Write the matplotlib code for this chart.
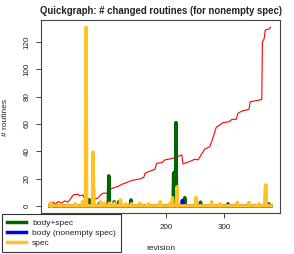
import numpy as np
import matplotlib
matplotlib.use("Agg")
import matplotlib.pyplot as plt
from matplotlib.lines import Line2D

plt.rcParams['font.family'] = ['Liberation Sans', 'DejaVu Sans']

# ---------------- data ----------------
n_rev = 380
revisions = np.arange(1, n_rev + 1)

# red line: key points (revision, value)
red_revs = [1, 7, 10, 15, 21, 27, 32, 35, 41, 49, 52, 58, 60, 66, 69, 77, 83, 88, 92,
            100, 103, 108, 117, 125, 130, 136, 145, 156, 162, 164, 170, 181, 184, 193,
            198, 204, 212, 224, 227, 229, 235, 244, 249, 255, 260, 266, 275, 280, 286,
            292, 297, 308, 313, 320, 323, 331, 342, 344, 359, 364, 365, 368, 370, 376, 379]
red_vals = [0.7, 2.7, 1.2, 3.1, 2.0, 3.7, 2.7, 4.4, 8.0, 8.6, 7.3, 8.0, 5.6, 5.6, 4.4,
            4.9, 5.6, 8.0, 9.3, 9.3, 11.7, 12.9, 14.1, 15.9, 16.6, 17.8, 19.0, 19.8,
            21.0, 23.9, 25.1, 26.8, 31.2, 31.7, 33.7, 34.2, 34.9, 36.8, 37.3, 30.7,
            31.7, 33.1, 34.2, 33.7, 37.3, 41.5, 43.4, 49.5, 57.6, 59.3, 60.9, 61.7,
            63.4, 63.4, 67.8, 69.7, 70.7, 76.3, 77.5, 78.1, 120.0, 122.5, 129.0, 129.5, 131.0]

# gray (faint) series: spikes (revision, value)
gray_revs = [77, 140, 190, 250]
gray_vals = [13, 2, 2, 2]

# body+spec (dark green) spikes
green_revs = [69, 86, 102, 111, 119, 140, 213, 215, 217, 232, 259, 306, 376]
green_vals = [4.4, 2.0, 22.0, 3.0, 3.0, 4.4, 24.0, 25.0, 61.0, 6.0, 2.7, 1.5, 1.5]

# body (nonempty spec) (blue) spikes
blue_revs = [228]
blue_vals = [4.0]

# spec (yellow) spikes
spec_revs = [2, 5, 20, 45, 57, 63, 75, 88, 94, 103, 111, 122, 131, 141, 155, 170,
             190, 207, 211, 219, 251, 278, 292, 322, 342, 359, 370, 371]
spec_vals = [2.0, 1.0, 1.0, 1.5, 3.0, 131.0, 39.5, 3.0, 2.0, 2.0, 2.0, 4.4, 1.5, 1.5,
             2.0, 1.5, 3.0, 2.0, 6.0, 14.0, 6.0, 3.0, 1.5, 2.5, 2.5, 1.5, 14.0, 15.4]

legend_labels = ["body+spec", "body (nonempty spec)", "spec"]
x_ticks = [0, 100, 200, 300]
x_tick_labels = ["", "", "200", "300"]   # 0 and 100 are hidden under the legend
y_ticks = [0, 20, 40, 60, 80, 100, 120]


def dense(revs, vals):
    arr = np.zeros(n_rev)
    for r, v in zip(revs, vals):
        arr[r - 1] = v
    return arr


gray = dense(gray_revs, gray_vals)
green = dense(green_revs, green_vals)
blue = dense(blue_revs, blue_vals)
spec = dense(spec_revs, spec_vals)

C_GREEN = "#006400"
C_BLUE = "#0000FF"
C_SPEC = "#FFC125"
C_RED = "#FF0000"
LW = 2.5

# ---------------- figure ----------------
W, H = 294, 254
fig = plt.figure(figsize=(W / 100, H / 100), dpi=100)
ax = fig.add_axes([41 / W, 1 - 213 / H, (280 - 41) / W, (213 - 20) / H])

ax.plot(revisions, gray, color="#C8C8C8", lw=1.5, zorder=1)
ax.plot(red_revs, red_vals, color=C_RED, lw=0.8, zorder=2)
ax.plot(revisions, green, color=C_GREEN, lw=LW, zorder=3)
ax.plot(revisions, blue, color=C_BLUE, lw=LW, zorder=4)
ax.plot(revisions, spec, color=C_SPEC, lw=LW, zorder=5)

span_x = n_rev - 1
ax.set_xlim(1 - 0.04 * span_x, n_rev + 0.04 * span_x)
ax.set_ylim(-0.04 * 131, 131 * 1.04)

ax.set_xticks(x_ticks)
ax.set_yticks(y_ticks)
ax.set_xticklabels(x_tick_labels)
ax.set_yticklabels([str(t) for t in y_ticks], rotation=90, va="center")
ax.tick_params(axis="both", length=3.6, width=0.7, color="#444444",
               labelsize=5.8, pad=4.0, labelcolor="#222222")
for s in ax.spines.values():
    s.set_color("#444444")
    s.set_linewidth(0.8)

fig.text(160.5 / W, 1 - 10.5 / H,
         "Quickgraph: # changed routines (for nonempty spec)",
         ha="center", va="center", fontsize=6.9, fontweight="bold", color="#222222")
fig.text(160.5 / W, 1 - 249 / H, "revision", ha="center", va="center",
         fontsize=6, color="#222222")
fig.text(6 / W, 1 - 117 / H, "# routines", ha="center", va="center",
         rotation=90, fontsize=6, color="#222222")

handles = [Line2D([], [], color=C_GREEN, lw=LW),
           Line2D([], [], color=C_BLUE, lw=LW),
           Line2D([], [], color=C_SPEC, lw=LW)]
leg = fig.legend(handles, legend_labels, loc="lower left",
                 bbox_to_anchor=(2 / W, 2 / H), bbox_transform=fig.transFigure,
                 borderaxespad=0, fancybox=False, framealpha=1, edgecolor="#333333",
                 fontsize=6, handlelength=2.3, handletextpad=0.7, labelspacing=0.25,
                 borderpad=0.6)
leg.get_frame().set_linewidth(0.8)
for t in leg.get_texts():
    t.set_color("#222222")

fig.savefig("out.png", dpi=100)
